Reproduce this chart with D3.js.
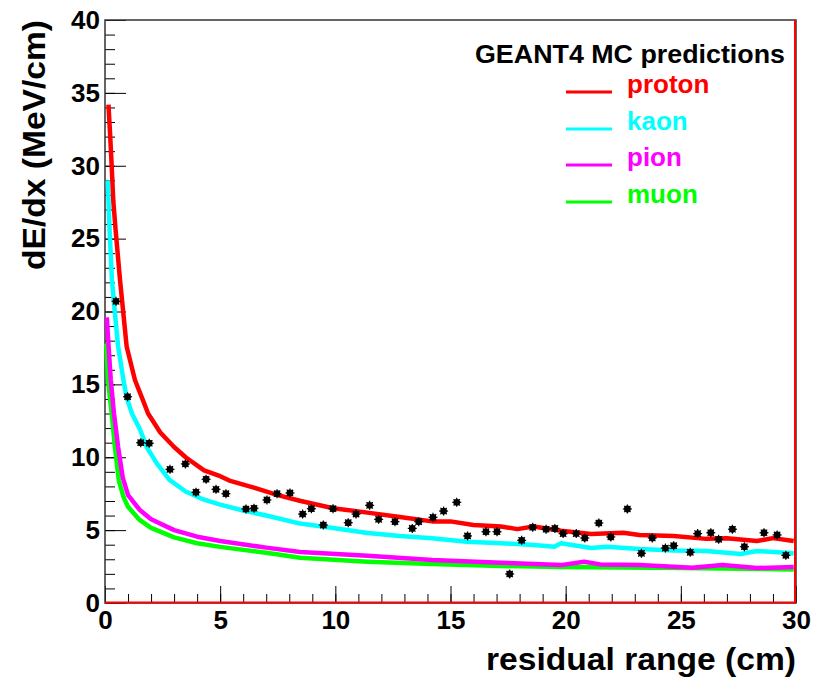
<!DOCTYPE html>
<html><head><meta charset="utf-8">
<script src="https://cdn.jsdelivr.net/npm/d3@7/dist/d3.min.js"></script>
<style>
body{margin:0;background:#fff}
svg{display:block;font-family:"Liberation Sans",Arial,Helvetica,sans-serif;font-weight:bold}
</style>
</head><body>
<svg id="chart" width="813" height="677"></svg>
<script>
// ---- data ----
const protonR    = [0.15,0.22,0.29,0.36,0.46,0.65,0.94,1.3,1.65,1.87,2.4,3.0,3.5,4.3,5.0,5.4,6.5,7.5,8.5,9.9,11.4,12.8,14.2,15.0,16.0,17.2,17.9,18.6,19.8,21.1,22.5,23.2,24.7,26.1,27.0,28.3,29.0,29.9];
const protonDEdx = [34.2,32.2,30.0,27.6,25.6,22.2,17.6,15.3,13.9,13.0,11.7,10.7,10.0,9.1,8.7,8.4,7.9,7.4,7.0,6.5,6.2,5.9,5.6,5.6,5.35,5.25,5.07,5.25,4.96,4.73,4.82,4.66,4.6,4.4,4.45,4.25,4.45,4.25];

const kaonR    = [0.12,0.2,0.3,0.43,0.57,0.8,0.94,1.17,1.52,1.81,2.24,2.8,3.5,4.2,5.0,6.0,7.0,8.47,9.9,11.4,12.8,14.2,15.7,17.2,18.6,19.5,19.8,21.1,21.8,23.2,24.7,26.1,27.6,28.3,29.7,29.9];
const kaonDEdx = [29.0,25.5,22.2,19.9,17.6,15.3,14.1,13.0,11.9,10.7,9.6,8.45,7.65,7.15,6.75,6.35,6.0,5.45,5.14,4.8,4.6,4.45,4.2,4.1,3.98,3.86,4.1,3.77,3.86,3.7,3.6,3.57,3.36,3.57,3.43,3.4];

const pionR    = [0.08,0.12,0.25,0.39,0.57,0.77,1.0,1.5,2.0,3.0,4.0,5.0,7.0,8.47,11.4,14.2,17.2,19.8,20.8,21.5,23.2,25.5,26.8,28.3,29.9];
const pionDEdx = [19.6,18.5,15.3,13.0,10.7,8.6,7.4,6.4,5.75,5.0,4.55,4.25,3.8,3.5,3.25,2.95,2.77,2.6,2.83,2.65,2.6,2.42,2.6,2.4,2.47];

const muonR    = [0.05,0.13,0.29,0.43,0.6,0.8,1.0,1.5,2.0,3.0,4.0,5.0,7.0,8.47,11.4,14.2,17.2,19.8,25.0,29.9];
const muonDEdx = [17.8,15.3,13.0,10.7,8.4,7.3,6.6,5.7,5.15,4.5,4.1,3.85,3.45,3.1,2.83,2.67,2.54,2.47,2.4,2.3];

const dataR    = [0.48,0.98,1.55,1.92,2.82,3.49,3.95,4.39,4.82,5.25,6.12,6.47,7.03,7.47,8.03,8.58,8.96,9.48,9.9,10.56,10.9,11.49,11.88,12.59,13.34,13.62,14.24,14.7,15.27,15.74,16.54,17.02,17.57,18.09,18.57,19.15,19.53,19.89,20.46,20.83,21.44,21.96,22.68,23.29,23.76,24.33,24.69,25.41,25.73,26.3,26.64,27.24,27.76,28.61,29.18,29.56];
const dataDEdx = [20.7,14.15,11.0,10.96,9.17,9.54,7.6,8.49,7.8,7.5,6.45,6.5,7.07,7.5,7.55,6.1,6.47,5.35,6.47,5.51,6.1,6.7,5.74,5.58,5.12,5.58,5.88,6.31,6.91,4.6,4.89,4.89,1.99,4.3,5.19,5.06,5.12,4.76,4.76,4.46,5.49,4.53,6.45,3.41,4.46,3.77,3.93,3.48,4.76,4.82,4.37,5.06,3.86,4.82,4.67,3.27];

const xMajor = [0,5,10,15,20,25,30];
const yMajor = [0,5,10,15,20,25,30,35,40];
const xMinor = d3.range(0,31,1);
const yMinor = d3.range(0,41,1);

const seriesNames  = ["proton","kaon","pion","muon"];
const seriesColors = ["#ff0000","#00ffff","#ff00ff","#00ff00"];
const legendTitle = "GEANT4 MC predictions";
const xTitle = "residual range (cm)";
const yTitle = "dE/dx (MeV/cm)";

// ---- drawing ----
const svg = d3.select("#chart");
svg.append("rect").attr("width",813).attr("height",677).attr("fill","#fff");

const x = d3.scaleLinear().domain([0,30]).range([105,796]);
const y = d3.scaleLinear().domain([0,40]).range([603,20]);
const FONT = '"Liberation Sans",Arial,sans-serif';

// minor ticks
svg.append("g").attr("transform","translate(0,603)")
  .call(d3.axisBottom(x).tickValues(xMinor).tickSize(-9).tickFormat(""))
  .call(g=>g.select(".domain").remove())
  .call(g=>g.selectAll("line").attr("stroke","#000").attr("stroke-width",1));
svg.append("g").attr("transform","translate(105,0)")
  .call(d3.axisLeft(y).tickValues(yMinor).tickSize(-10).tickFormat(""))
  .call(g=>g.select(".domain").remove())
  .call(g=>g.selectAll("line").attr("stroke","#000").attr("stroke-width",1));

// major ticks + labels
svg.append("g").attr("transform","translate(0,603)")
  .call(d3.axisBottom(x).tickValues(xMajor).tickSize(-17).tickPadding(8).tickFormat(d3.format("d")))
  .call(g=>g.select(".domain").remove())
  .call(g=>g.selectAll("line").attr("stroke","#000").attr("stroke-width",1))
  .call(g=>g.selectAll("text").attr("font-size",26).attr("font-weight","bold").attr("fill","#000")
     .attr("font-family",FONT));
svg.append("g").attr("transform","translate(105,0)")
  .call(d3.axisLeft(y).tickValues(yMajor).tickSize(-21).tickPadding(5).tickFormat(d3.format("d")))
  .call(g=>g.select(".domain").remove())
  .call(g=>g.selectAll("line").attr("stroke","#000").attr("stroke-width",1))
  .call(g=>g.selectAll("text").attr("font-size",26).attr("font-weight","bold").attr("fill","#000")
     .attr("font-family",FONT));

// frame
svg.append("rect").attr("x",105).attr("y",20).attr("width",691).attr("height",583)
  .attr("fill","none").attr("stroke","#333").attr("stroke-width",1.5);

// curves
const line = d3.line().x(d=>x(d[0])).y(d=>y(d[1]));
const curves = [
  {name:"muon",   r:muonR,   v:muonDEdx,   c:seriesColors[3]},
  {name:"pion",   r:pionR,   v:pionDEdx,   c:seriesColors[2]},
  {name:"kaon",   r:kaonR,   v:kaonDEdx,   c:seriesColors[1]},
  {name:"proton", r:protonR, v:protonDEdx, c:seriesColors[0]}
];
curves.forEach(s=>{
  svg.append("path").datum(d3.zip(s.r,s.v)).attr("d",line)
    .attr("fill","none").attr("stroke",s.c).attr("stroke-width",4.5)
    .attr("stroke-linejoin","round");
});

// red histogram edge along bottom and right
svg.append("path").attr("d",`M${x(0)},${y(0)-0.5}H${x(30)-1}V${y(40)}`)
  .attr("fill","none").attr("stroke","#ff0000").attr("stroke-width",2);

// data points
const pts = svg.append("g");
d3.zip(dataR,dataDEdx).forEach(d=>{
  const g = pts.append("g").attr("transform",`translate(${x(d[0])},${y(d[1])})`);
  g.append("circle").attr("r",3.4).attr("fill","#000");
  [0,45,90,135].forEach(a=>{
    g.append("line").attr("x1",-4.5).attr("x2",4.5).attr("y1",0).attr("y2",0)
      .attr("transform",`rotate(${a})`).attr("stroke","#000").attr("stroke-width",1.2);
  });
});

// axis titles
svg.append("text").attr("x",796).attr("y",670).attr("text-anchor","end")
  .attr("font-size",31).attr("textLength",310).attr("lengthAdjust","spacingAndGlyphs")
  .text(xTitle);
svg.append("text").attr("transform","translate(45,20) rotate(-90)").attr("text-anchor","end")
  .attr("font-size",31).attr("textLength",250).attr("lengthAdjust","spacingAndGlyphs")
  .text(yTitle);

// legend
svg.append("text").attr("x",475).attr("y",63).attr("font-size",26)
  .attr("textLength",310).attr("lengthAdjust","spacingAndGlyphs").text(legendTitle);
const legY = [92,129,165,202];
seriesNames.forEach((n,i)=>{
  svg.append("line").attr("x1",566).attr("x2",612).attr("y1",legY[i]).attr("y2",legY[i])
    .attr("stroke",seriesColors[i]).attr("stroke-width",3);
  svg.append("text").attr("x",627).attr("y",legY[i]+1).attr("font-size",26)
    .attr("fill",seriesColors[i]).text(n);
});
</script>
</body></html>
